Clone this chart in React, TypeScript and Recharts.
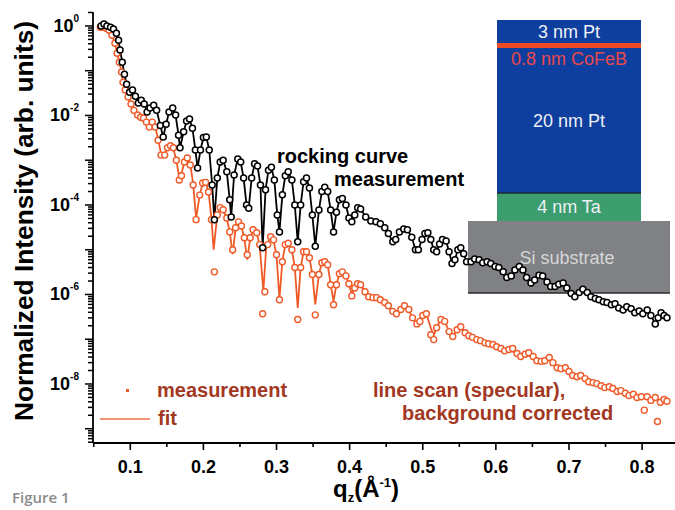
import { ComposedChart, Line, XAxis, YAxis } from 'recharts';

// rocking curve measurement (black)
const rockingQ = [
  0.06, 0.064, 0.068, 0.073, 0.077, 0.081, 0.084, 0.086, 0.089, 0.092, 0.095, 0.099, 0.103, 0.107, 0.111,
  0.115, 0.119, 0.123, 0.127, 0.132, 0.136, 0.141, 0.145, 0.149, 0.153, 0.158, 0.162, 0.166, 0.168, 0.173,
  0.177, 0.181, 0.185, 0.189, 0.192, 0.196, 0.2, 0.204, 0.208, 0.212, 0.215, 0.219, 0.223, 0.227, 0.232,
  0.236, 0.238, 0.242, 0.247, 0.251, 0.255, 0.259, 0.262, 0.266, 0.27, 0.274, 0.278, 0.281, 0.285, 0.289,
  0.293, 0.297, 0.301, 0.304, 0.308, 0.312, 0.316, 0.321, 0.325, 0.329, 0.333, 0.337, 0.341, 0.345, 0.349,
  0.353, 0.358, 0.362, 0.366, 0.37, 0.374, 0.378, 0.382, 0.386, 0.39, 0.395, 0.399, 0.403, 0.407, 0.411,
  0.415, 0.422, 0.429, 0.436, 0.442, 0.448, 0.453, 0.459, 0.463, 0.468, 0.474, 0.479, 0.485, 0.49, 0.494,
  0.499, 0.503, 0.507, 0.511, 0.515, 0.519, 0.523, 0.527, 0.532, 0.536, 0.54, 0.544, 0.548, 0.552, 0.556,
  0.56, 0.566, 0.571, 0.577, 0.582, 0.588, 0.593, 0.599, 0.604, 0.61, 0.615, 0.621, 0.626, 0.632, 0.637,
  0.642, 0.648, 0.653, 0.659, 0.664, 0.67, 0.675, 0.681, 0.686, 0.692, 0.697, 0.703, 0.708, 0.714, 0.719,
  0.725, 0.73, 0.736, 0.741, 0.747, 0.752, 0.758, 0.763, 0.768, 0.774, 0.779, 0.785, 0.79, 0.796, 0.801,
  0.807, 0.812, 0.818, 0.822, 0.826, 0.83, 0.834,
];
const rockingI = [
  1.0, 1.1, 1.0, 0.93, 0.85, 0.69, 0.48, 0.29, 0.155, 0.083, 0.05, 0.033, 0.037, 0.027, 0.019,
  0.022, 0.018, 0.012, 0.0147, 0.017, 0.013, 0.006, 0.0033, 0.0064, 0.012, 0.0147, 0.0102, 0.0036, 0.0019, 0.0043,
  0.0075, 0.0083, 0.0052, 0.0017, 0.00067, 0.0017, 0.0032, 0.0033, 0.0017, 0.00028, 4.7e-5, 0.0004, 0.00091, 0.001, 0.00055,
  0.00013, 5.4e-5, 0.00047, 0.00107, 0.00091, 0.0004, 1.0e-4, 8.5e-5, 0.0004, 0.00083, 0.00074, 0.00028, 1.1e-5, 0.00022, 0.0006,
  0.0007, 0.00036, 6e-5, 2.5e-5, 0.00017, 0.00045, 0.00055, 0.00036, 1e-4, 1.5e-5, 1e-4, 0.00033, 0.0004, 0.00024, 6e-5,
  1.2e-5, 7.7e-5, 0.0002, 0.00025, 0.0002, 7.7e-5, 2.5e-5, 6.9e-5, 0.00013, 0.00014, 1e-4, 5.1e-5, 4.2e-5, 6e-5, 8.7e-5,
  8.1e-5, 5.4e-5, 4.4e-5, 4.2e-5, 3.8e-5, 3.1e-5, 2.3e-5, 1.5e-5, 1.7e-5, 2.5e-5, 2.9e-5, 2.8e-5, 1.9e-5, 1.0e-5, 1e-5,
  1.7e-5, 2.3e-5, 2.4e-5, 1.7e-5, 1e-5, 9e-6, 1.35e-5, 1.7e-5, 1.56e-5, 9e-6, 4.9e-6, 6e-6, 1e-5, 1.1e-5, 8.1e-6,
  5.4e-6, 5.4e-6, 6.2e-6, 6e-6, 5.1e-6, 5.4e-6, 4.9e-6, 4.2e-6, 4e-6, 3.2e-6, 2.4e-6, 2.6e-6, 3.5e-6, 4.2e-6, 3.5e-6,
  2.4e-6, 1.8e-6, 2.1e-6, 2.7e-6, 2.6e-6, 1.9e-6, 1.5e-6, 1.5e-6, 1.7e-6, 1.8e-6, 1.4e-6, 1.05e-6, 8.9e-7, 1.1e-6, 1.3e-6,
  1.1e-6, 8.9e-7, 8.1e-7, 7.6e-7, 6.9e-7, 6.6e-7, 5.9e-7, 6.2e-7, 5e-7, 4.5e-7, 5.3e-7, 4.8e-7, 3.9e-7, 4.3e-7, 3.7e-7,
  4.5e-7, 3.4e-7, 2.2e-7, 3e-7, 3.9e-7, 3.4e-7, 3e-7,
];

// line scan (specular), background corrected (red circles)
const specQ = [
  0.059, 0.063, 0.067, 0.071, 0.075, 0.079, 0.082, 0.085, 0.088, 0.09, 0.093, 0.097, 0.101, 0.105, 0.11,
  0.114, 0.118, 0.122, 0.126, 0.13, 0.134, 0.138, 0.142, 0.147, 0.151, 0.155, 0.159, 0.163, 0.167, 0.17,
  0.174, 0.178, 0.182, 0.186, 0.19, 0.195, 0.199, 0.203, 0.207, 0.211, 0.215, 0.219, 0.223, 0.227, 0.232,
  0.236, 0.24, 0.244, 0.248, 0.252, 0.256, 0.26, 0.264, 0.268, 0.273, 0.277, 0.281, 0.284, 0.288, 0.292,
  0.296, 0.3, 0.304, 0.308, 0.312, 0.316, 0.321, 0.325, 0.329, 0.333, 0.337, 0.341, 0.345, 0.349, 0.353,
  0.358, 0.362, 0.366, 0.37, 0.374, 0.378, 0.382, 0.386, 0.39, 0.395, 0.399, 0.403, 0.407, 0.411, 0.415,
  0.421, 0.426, 0.432, 0.437, 0.442, 0.448, 0.453, 0.459, 0.464, 0.47, 0.475, 0.481, 0.486, 0.492, 0.496,
  0.5, 0.505, 0.511, 0.515, 0.519, 0.525, 0.53, 0.536, 0.541, 0.547, 0.552, 0.558, 0.563, 0.568, 0.574,
  0.579, 0.585, 0.59, 0.596, 0.601, 0.607, 0.612, 0.618, 0.623, 0.629, 0.634, 0.64, 0.645, 0.651, 0.656,
  0.662, 0.667, 0.673, 0.678, 0.684, 0.689, 0.695, 0.7, 0.705, 0.711, 0.716, 0.722, 0.727, 0.733, 0.738,
  0.744, 0.749, 0.755, 0.76, 0.766, 0.771, 0.777, 0.782, 0.788, 0.793, 0.799, 0.803, 0.807, 0.812, 0.818,
  0.821, 0.825, 0.83, 0.834,
];
const specI = [
  0.93, 0.93, 0.89, 0.8, 0.62, 0.41, 0.245, 0.155, 0.093, 0.055, 0.037, 0.026, 0.018, 0.013, 0.0102,
  0.0091, 0.0087, 0.0071, 0.0055, 0.0071, 0.0055, 0.0028, 0.0013, 0.0013, 0.0019, 0.0021, 0.0019, 0.001, 0.00036, 0.00045,
  0.00091, 0.00112, 0.00078, 0.00028, 4.7e-5, 0.000166, 0.00031, 0.00032, 0.000195, 4.7e-5, 3.2e-6, 6e-5, 8.7e-5, 7.8e-5, 5.1e-5,
  2.5e-5, 1e-5, 3.1e-5, 4.2e-5, 3.4e-5, 1.85e-5, 7.7e-6, 1.85e-5, 2.8e-5, 2.4e-5, 1.3e-5, 3.7e-7, 1.15e-6, 1.3e-5, 1.95e-5,
  1.66e-5, 7.7e-6, 7.6e-7, 5.4e-6, 1.3e-5, 1.4e-5, 1e-5, 4e-6, 2.75e-7, 4e-6, 9e-6, 9e-6, 6.6e-6, 2.8e-6, 3.5e-7,
  2.8e-6, 5.1e-6, 5.4e-6, 4.6e-6, 1.65e-6, 5.9e-7, 1.65e-6, 2.9e-6, 3.2e-6, 2.6e-6, 1.74e-6, 9.3e-7, 1.4e-6, 1.74e-6, 1.65e-6,
  1.15e-6, 8.9e-7, 8.5e-7, 8.5e-7, 7.6e-7, 6.6e-7, 5.6e-7, 4.2e-7, 3.7e-7, 4.6e-7, 5.6e-7, 4.6e-7, 3e-7, 2.2e-7, 2.5e-7,
  3.4e-7, 3.7e-7, 1.26e-7, 9.8e-8, 1.8e-7, 2.75e-7, 2.5e-7, 1.48e-7, 1.15e-7, 1.63e-7, 1.9e-7, 1.4e-7, 1.2e-7, 1.1e-7, 9.8e-8,
  9.3e-8, 8.3e-8, 7.9e-8, 7.6e-8, 6.8e-8, 6.2e-8, 5.5e-8, 5.9e-8, 6.2e-8, 4.8e-8, 4.1e-8, 4.6e-8, 5e-8, 4.1e-8, 3.3e-8,
  3.2e-8, 3.3e-8, 3.9e-8, 3e-8, 2.3e-8, 2.2e-8, 2.3e-8, 1.9e-8, 1.55e-8, 1.45e-8, 1.55e-8, 1.32e-8, 1.12e-8, 1.07e-8, 1.02e-8,
  9.1e-9, 8.3e-9, 8.7e-9, 7.9e-9, 6.8e-9, 7.1e-9, 6.2e-9, 5.5e-9, 5.9e-9, 5e-9, 5.2e-9, 2.6e-9, 5.2e-9, 4.3e-9, 5e-9,
  1.45e-9, 3.9e-9, 4.5e-9, 4.1e-9,
];

// fit (red line)
const fitQ = [
  0.059, 0.067, 0.075, 0.079, 0.082, 0.085, 0.088, 0.09, 0.093, 0.097, 0.101, 0.105, 0.11, 0.114, 0.118,
  0.122, 0.126, 0.13, 0.134, 0.138, 0.142, 0.147, 0.151, 0.155, 0.159, 0.163, 0.167, 0.17, 0.174, 0.178,
  0.182, 0.186, 0.19, 0.195, 0.199, 0.203, 0.207, 0.211, 0.214, 0.219, 0.223, 0.227, 0.232, 0.236, 0.24,
  0.244, 0.248, 0.252, 0.256, 0.26, 0.264, 0.268, 0.273, 0.277, 0.282, 0.286, 0.292, 0.296, 0.3, 0.304,
  0.308, 0.312, 0.316, 0.321, 0.325, 0.329, 0.333, 0.337, 0.341, 0.345, 0.349, 0.353, 0.358, 0.362, 0.366,
  0.37, 0.374, 0.378, 0.382, 0.386, 0.39, 0.395, 0.399, 0.403, 0.407, 0.411, 0.415, 0.421, 0.426, 0.432,
  0.437, 0.442, 0.448, 0.453, 0.459, 0.464, 0.47, 0.475, 0.481, 0.486, 0.492, 0.496, 0.5, 0.505, 0.511,
  0.515, 0.519, 0.525, 0.53, 0.536, 0.541, 0.547, 0.552, 0.563, 0.574, 0.585, 0.596, 0.607, 0.618, 0.629,
  0.64, 0.651, 0.662, 0.673, 0.684, 0.695, 0.705, 0.716, 0.727, 0.738, 0.749, 0.76, 0.771, 0.782, 0.793,
  0.807, 0.818, 0.834,
];
const fitI = [
  0.93, 0.89, 0.62, 0.41, 0.25, 0.155, 0.093, 0.055, 0.037, 0.026, 0.018, 0.013, 0.0105, 0.0093, 0.0085,
  0.0072, 0.006, 0.0066, 0.0056, 0.003, 0.0014, 0.0014, 0.0019, 0.0021, 0.0018, 0.001, 0.0004, 0.0005, 0.0009, 0.0011,
  0.0008, 0.0003, 5e-5, 0.00017, 0.0003, 0.00032, 0.0002, 5e-5, 1e-5, 6e-5, 8.7e-5, 7.8e-5, 5e-5, 2.5e-5, 8e-6,
  3e-5, 4.2e-5, 3.4e-5, 1.8e-5, 6e-6, 1.8e-5, 2.8e-5, 2.4e-5, 1.2e-5, 1.2e-6, 1.2e-5, 2e-5, 1.6e-5, 7.5e-6, 8e-7,
  5.5e-6, 1.3e-5, 1.4e-5, 1e-5, 4e-6, 5e-7, 4e-6, 9e-6, 9e-6, 6.6e-6, 2.8e-6, 6e-7, 2.8e-6, 5.1e-6, 5.4e-6,
  4.6e-6, 1.7e-6, 7e-7, 1.7e-6, 2.9e-6, 3.2e-6, 2.6e-6, 1.7e-6, 1e-6, 1.4e-6, 1.7e-6, 1.6e-6, 1.2e-6, 9e-7, 8.5e-7,
  8.5e-7, 7.5e-7, 6.5e-7, 5.5e-7, 4.3e-7, 3.8e-7, 4.6e-7, 5.5e-7, 4.5e-7, 3e-7, 2.2e-7, 2.5e-7, 3.3e-7, 3.6e-7, 1.8e-7,
  1.2e-7, 1.9e-7, 2.7e-7, 2.5e-7, 1.5e-7, 1.2e-7, 1.6e-7, 1.8e-7, 1.2e-7, 1e-7, 8.5e-8, 7.5e-8, 6.2e-8, 5.8e-8, 4.8e-8,
  4.5e-8, 4e-8, 3.2e-8, 3.6e-8, 2.4e-8, 2.2e-8, 1.6e-8, 1.5e-8, 1.2e-8, 1e-8, 8.5e-9, 7.8e-9, 7e-9, 5.7e-9, 5e-9,
  4.9e-9, 4.6e-9, 4e-9,
];

const xTicks = [0.05, 0.1, 0.15, 0.2, 0.25, 0.3, 0.35, 0.4, 0.45, 0.5, 0.55, 0.6, 0.65, 0.7, 0.75, 0.8];
const xLabels = ['0.1', '0.2', '0.3', '0.4', '0.5', '0.6', '0.7', '0.8'];
const yLabelExponents = [0, -2, -4, -6, -8];
const yDecades = [0, -1, -2, -3, -4, -5, -6, -7, -8, -9, -10];
const yMantissas = [1, 2, 3, 4, 5, 6, 7, 8, 9];

const Y_MIN = 4.8e-10;
const Y_MAX = 2.05;

const rocking = rockingQ.map((q, i) => ({ q, v: rockingI[i] }));
const specular = specQ.map((q, i) => ({ q, v: specI[i] }));
const fit = fitQ.map((q, i) => ({ q, v: fitI[i] }));

const yTicks: number[] = [];
yDecades.forEach(e => {
  yMantissas.forEach(m => {
    const v = m * Math.pow(10, e);
    if (v >= Y_MIN && v <= Y_MAX) yTicks.push(v);
  });
});

const boldFont = '"Liberation Sans", Arial, sans-serif';
const darkRed = '#a2381f';
const red = '#f05a28';

function YTick(props: any) {
  const { x, y, payload } = props;
  const lg = Math.log10(payload.value);
  const e = Math.round(lg);
  const decade = Math.abs(lg - e) < 1e-6;
  const labelled = decade && yLabelExponents.includes(e);
  return (
    <g>
      <line x1={x} x2={x - (decade ? 8 : 5)} y1={y} y2={y} stroke="#000" strokeWidth={1.5} />
      {labelled && (
        <text x={x - 14} y={y} textAnchor="end" dominantBaseline="central" fontFamily={boldFont} fontWeight="bold" fontSize={18} fill="#000">
          10<tspan fontSize={10} dy={-8}>{e}</tspan>
        </text>
      )}
    </g>
  );
}

function XTick(props: any) {
  const { x, y, payload } = props;
  const label = payload.value.toFixed(1);
  const major = Math.abs(payload.value * 10 - Math.round(payload.value * 10)) < 1e-6;
  return (
    <g>
      <line x1={x} x2={x} y1={y} y2={y + (major ? 7 : 4)} stroke="#000" strokeWidth={1.6} />
      {major && xLabels.includes(label) && (
        <text x={x} y={y + 30} textAnchor="middle" fontFamily={boldFont} fontWeight="bold" fontSize={18} fill="#000">
          {label}
        </text>
      )}
    </g>
  );
}

function Inset() {
  const txt = { fontFamily: '"Liberation Sans", Arial, sans-serif', fontSize: 18, textAnchor: 'middle' as const };
  return (
    <svg width={675} height={510} style={{ position: 'absolute', left: 0, top: 0 }}>
      <rect x={497} y={20} width={144} height={173} fill="#0e3f9e" />
      <rect x={497} y={43} width={144} height={5} fill="#f04a24" />
      <rect x={497} y={193} width={144} height={28} fill="#3c9d6e" />
      <line x1={497} x2={641} y1={193} y2={193} stroke="#1d2b3a" strokeWidth={1.5} />
      <rect x={468} y={221} width={202} height={72} fill="#7f8184" />
      <line x1={468} x2={670} y1={293} y2={293} stroke="#2a2a2a" strokeWidth={1.5} />
      <text x={569} y={38} fill="#eef0f6" {...txt}>3 nm Pt</text>
      <text x={569} y={65} fill="#e8484a" {...txt}>0.8 nm CoFeB</text>
      <text x={569} y={127} fill="#eef0f6" {...txt}>20 nm Pt</text>
      <text x={569} y={213} fill="#eef0f6" {...txt}>4 nm Ta</text>
      <text x={567} y={264} fill="#d6d6d6" {...txt}>Si substrate</text>
    </svg>
  );
}

function Annotations() {
  const b = { fontFamily: boldFont, fontWeight: 'bold' as const, fontSize: 20 };
  return (
    <svg width={675} height={510} style={{ position: 'absolute', left: 0, top: 0, pointerEvents: 'none' }}>
      <text x={277} y={163} fill="#000" {...b}>rocking curve</text>
      <text x={334} y={186} fill="#000" {...b}>measurement</text>
      <rect x={126} y={389} width={3} height={3} fill={red} />
      <text x={157} y={397} fill={darkRed} {...b}>measurement</text>
      <line x1={100} x2={150} y1={419} y2={419} stroke="#f07048" strokeWidth={1.5} />
      <text x={158} y={425} fill={darkRed} {...b}>fit</text>
      <text x={373} y={397} fill={darkRed} {...b}>line scan (specular),</text>
      <text x={402} y={420} fill={darkRed} {...b}>background corrected</text>
      <text
        transform="translate(33,221) rotate(-90)"
        textAnchor="middle"
        fontFamily={boldFont}
        fontWeight="bold"
        fontSize={26}
        textLength={400}
        lengthAdjust="spacingAndGlyphs"
        fill="#000"
      >
        Normalized Intensity (arb. units)
      </text>
      <text x={333} y={497} fontFamily={boldFont} fontWeight="bold" fontSize={24} fill="#000">
        q<tspan fontSize={13} dy={5}>z</tspan>
        <tspan dy={-5}>(Å</tspan>
        <tspan fontSize={13} dy={-10}>-1</tspan>
        <tspan dy={10}>)</tspan>
      </text>
      <text x={12} y={503} fontFamily='"Open Sans", sans-serif' fontWeight={600} fontSize={15} fill="#8a8a8a">
        Figure 1
      </text>
    </svg>
  );
}

export default function App() {
  return (
    <div style={{ position: 'absolute', left: 0, top: 0, width: 675, height: 510, overflow: 'hidden', background: '#fff' }}>
      <Inset />
      <div style={{ position: 'absolute', left: 0, top: 0 }}>
        <ComposedChart width={675} height={510} margin={{ top: 12, right: 0, bottom: 0, left: 0 }}>
          <XAxis
            dataKey="q"
            type="number"
            domain={[0.049, 0.845]}
            allowDataOverflow
            ticks={xTicks}
            interval={0}
            tickSize={0}
            tickMargin={0}
            tickLine={false}
            tick={<XTick />}
            height={67}
            axisLine={{ stroke: '#000', strokeWidth: 1.8 }}
          />
          <XAxis
            xAxisId="top"
            orientation="top"
            type="number"
            domain={[0, 1]}
            height={0}
            tick={false}
            tickLine={false}
            axisLine={{ stroke: '#000', strokeWidth: 1.6 }}
          />
          <YAxis
            scale="log"
            type="number"
            domain={[Y_MIN, Y_MAX]}
            allowDataOverflow
            ticks={yTicks}
            interval={0}
            tickSize={0}
            tickMargin={0}
            tickLine={false}
            tick={<YTick />}
            width={93}
            axisLine={{ stroke: '#000', strokeWidth: 1.8 }}
          />
          <Line
            data={fit}
            dataKey="v"
            stroke="#f05a26"
            strokeWidth={1.8}
            dot={false}
            activeDot={false}
            isAnimationActive={false}
          />
          <Line
            data={specular}
            dataKey="v"
            stroke="none"
            dot={{ r: 3, stroke: red, strokeWidth: 1.4, fill: '#fff' }}
            activeDot={false}
            isAnimationActive={false}
          />
          <Line
            data={rocking}
            dataKey="v"
            stroke="#000"
            strokeWidth={1.8}
            dot={{ r: 3, stroke: '#000', strokeWidth: 1.5, fill: '#fff' }}
            activeDot={false}
            isAnimationActive={false}
          />
        </ComposedChart>
      </div>
      <Annotations />
    </div>
  );
}
